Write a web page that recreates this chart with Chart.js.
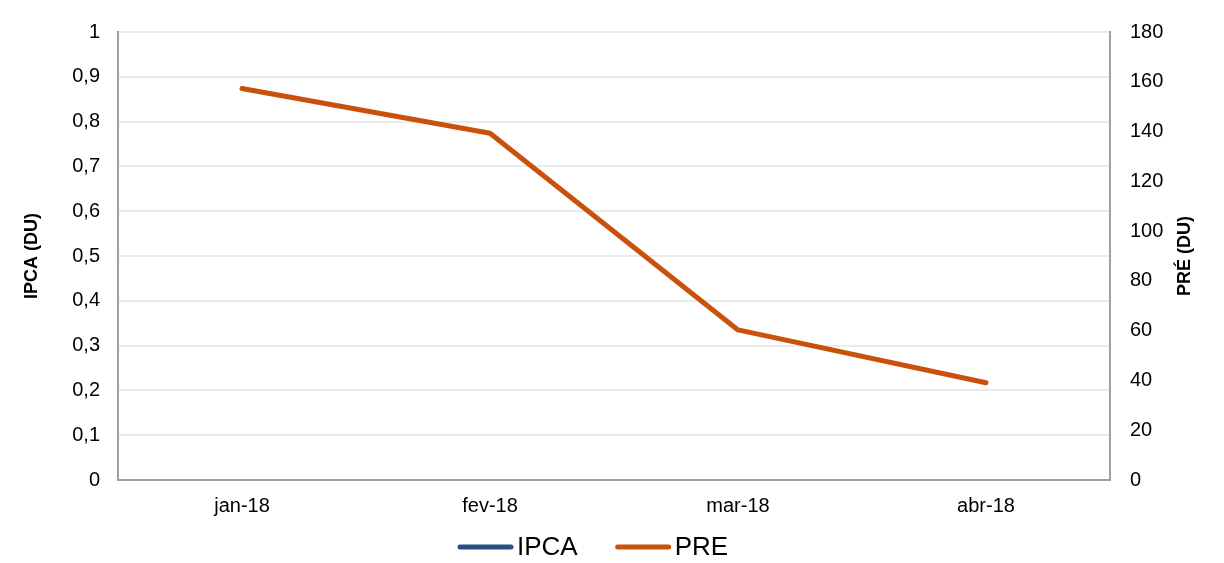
<!DOCTYPE html>
<html>
<head>
<meta charset="utf-8">
<script src="https://cdn.jsdelivr.net/npm/chart.js@4"></script>
<style>
  html, body { margin: 0; padding: 0; background: #fff; }
  #wrap { width: 1224px; height: 563px; }
</style>
</head>
<body>
<div id="wrap"><canvas id="chart"></canvas></div>
<script>
// Data
const months = ['jan-18', 'fev-18', 'mar-18', 'abr-18'];
const ipcaValues = [null, null, null, null];
const preValues = [157.3, 139.3, 60.3, 39.1];

const fontFamily = '"Liberation Sans", Arial, sans-serif';
const gridColor = '#ebebeb';
const axisColor = '#a0a0a0';

// Right axis title reads bottom-to-top, so draw it ourselves
const rightTitle = {
    id: 'rightTitle',
    afterDraw(chart) {
        const ctx = chart.ctx;
        const area = chart.chartArea;
        ctx.save();
        ctx.translate(1185, (area.top + area.bottom) / 2);
        ctx.rotate(-Math.PI / 2);
        ctx.font = 'bold 18px ' + fontFamily;
        ctx.fillStyle = '#000';
        ctx.textAlign = 'center';
        ctx.textBaseline = 'middle';
        ctx.fillText('PRÉ (DU)', 0, 0);
        ctx.restore();
    }
};

// Legend with line swatches, laid out like the original
const lineLegend = {
    id: 'lineLegend',
    afterDraw(chart) {
        const ctx = chart.ctx;
        let x = 460;
        const y = 547;
        ctx.save();
        ctx.font = '26px ' + fontFamily;
        ctx.textBaseline = 'middle';
        ctx.textAlign = 'left';
        chart.data.datasets.forEach(ds => {
            ctx.strokeStyle = ds.borderColor;
            ctx.lineWidth = 5;
            ctx.lineCap = 'round';
            ctx.beginPath();
            ctx.moveTo(x, y);
            ctx.lineTo(x + 51, y);
            ctx.stroke();
            x += 57;
            ctx.fillStyle = '#000';
            ctx.fillText(ds.label, x, y + 1);
            x += ctx.measureText(ds.label).width + 40;
        });
        ctx.restore();
    }
};

new Chart(document.getElementById('chart'), {
    type: 'line',
    data: {
        labels: months,
        datasets: [{
            label: 'IPCA',
            data: ipcaValues,
            yAxisID: 'y',
            borderColor: '#264f87',
            backgroundColor: '#264f87',
            borderWidth: 5,
            pointRadius: 0
        }, {
            label: 'PRE',
            data: preValues,
            yAxisID: 'y1',
            borderColor: '#c9510c',
            backgroundColor: '#c9510c',
            borderWidth: 5,
            borderCapStyle: 'round',
            borderJoinStyle: 'round',
            pointRadius: 0,
            tension: 0
        }]
    },
    options: {
        responsive: true,
        maintainAspectRatio: false,
        animation: false,
        layout: { padding: { top: 25, left: 0, right: 0, bottom: 0 } },
        plugins: {
            tooltip: { enabled: false },
            legend: { display: false }
        },
        scales: {
            x: {
                offset: true,
                grid: { display: false, drawTicks: false },
                border: { display: true, color: axisColor, width: 2 },
                ticks: {
                    color: '#000',
                    font: { family: fontFamily, size: 20 },
                    padding: 14
                },
                afterFit(scale) { scale.height = 83; }
            },
            y: {
                position: 'left',
                min: 0,
                max: 1,
                grid: { color: gridColor, lineWidth: 2, drawTicks: false },
                border: { display: true, color: axisColor, width: 2 },
                ticks: {
                    stepSize: 0.1,
                    color: '#000',
                    font: { family: fontFamily, size: 20 },
                    padding: 18,
                    callback: v => Number(v.toFixed(1)).toString().replace('.', ',')
                },
                title: {
                    display: true,
                    text: 'IPCA (DU)',
                    color: '#000',
                    font: { family: fontFamily, size: 18, weight: 'bold' },
                    padding: { top: 21, bottom: 0 }
                },
                afterFit(scale) { scale.width = 118; }
            },
            y1: {
                position: 'right',
                min: 0,
                max: 180,
                grid: { display: false, drawTicks: false },
                border: { display: true, color: axisColor, width: 2 },
                ticks: {
                    stepSize: 20,
                    color: '#000',
                    font: { family: fontFamily, size: 20 },
                    padding: 20
                },
                afterFit(scale) { scale.width = 114; }
            }
        }
    },
    plugins: [rightTitle, lineLegend]
});
</script>
</body>
</html>
